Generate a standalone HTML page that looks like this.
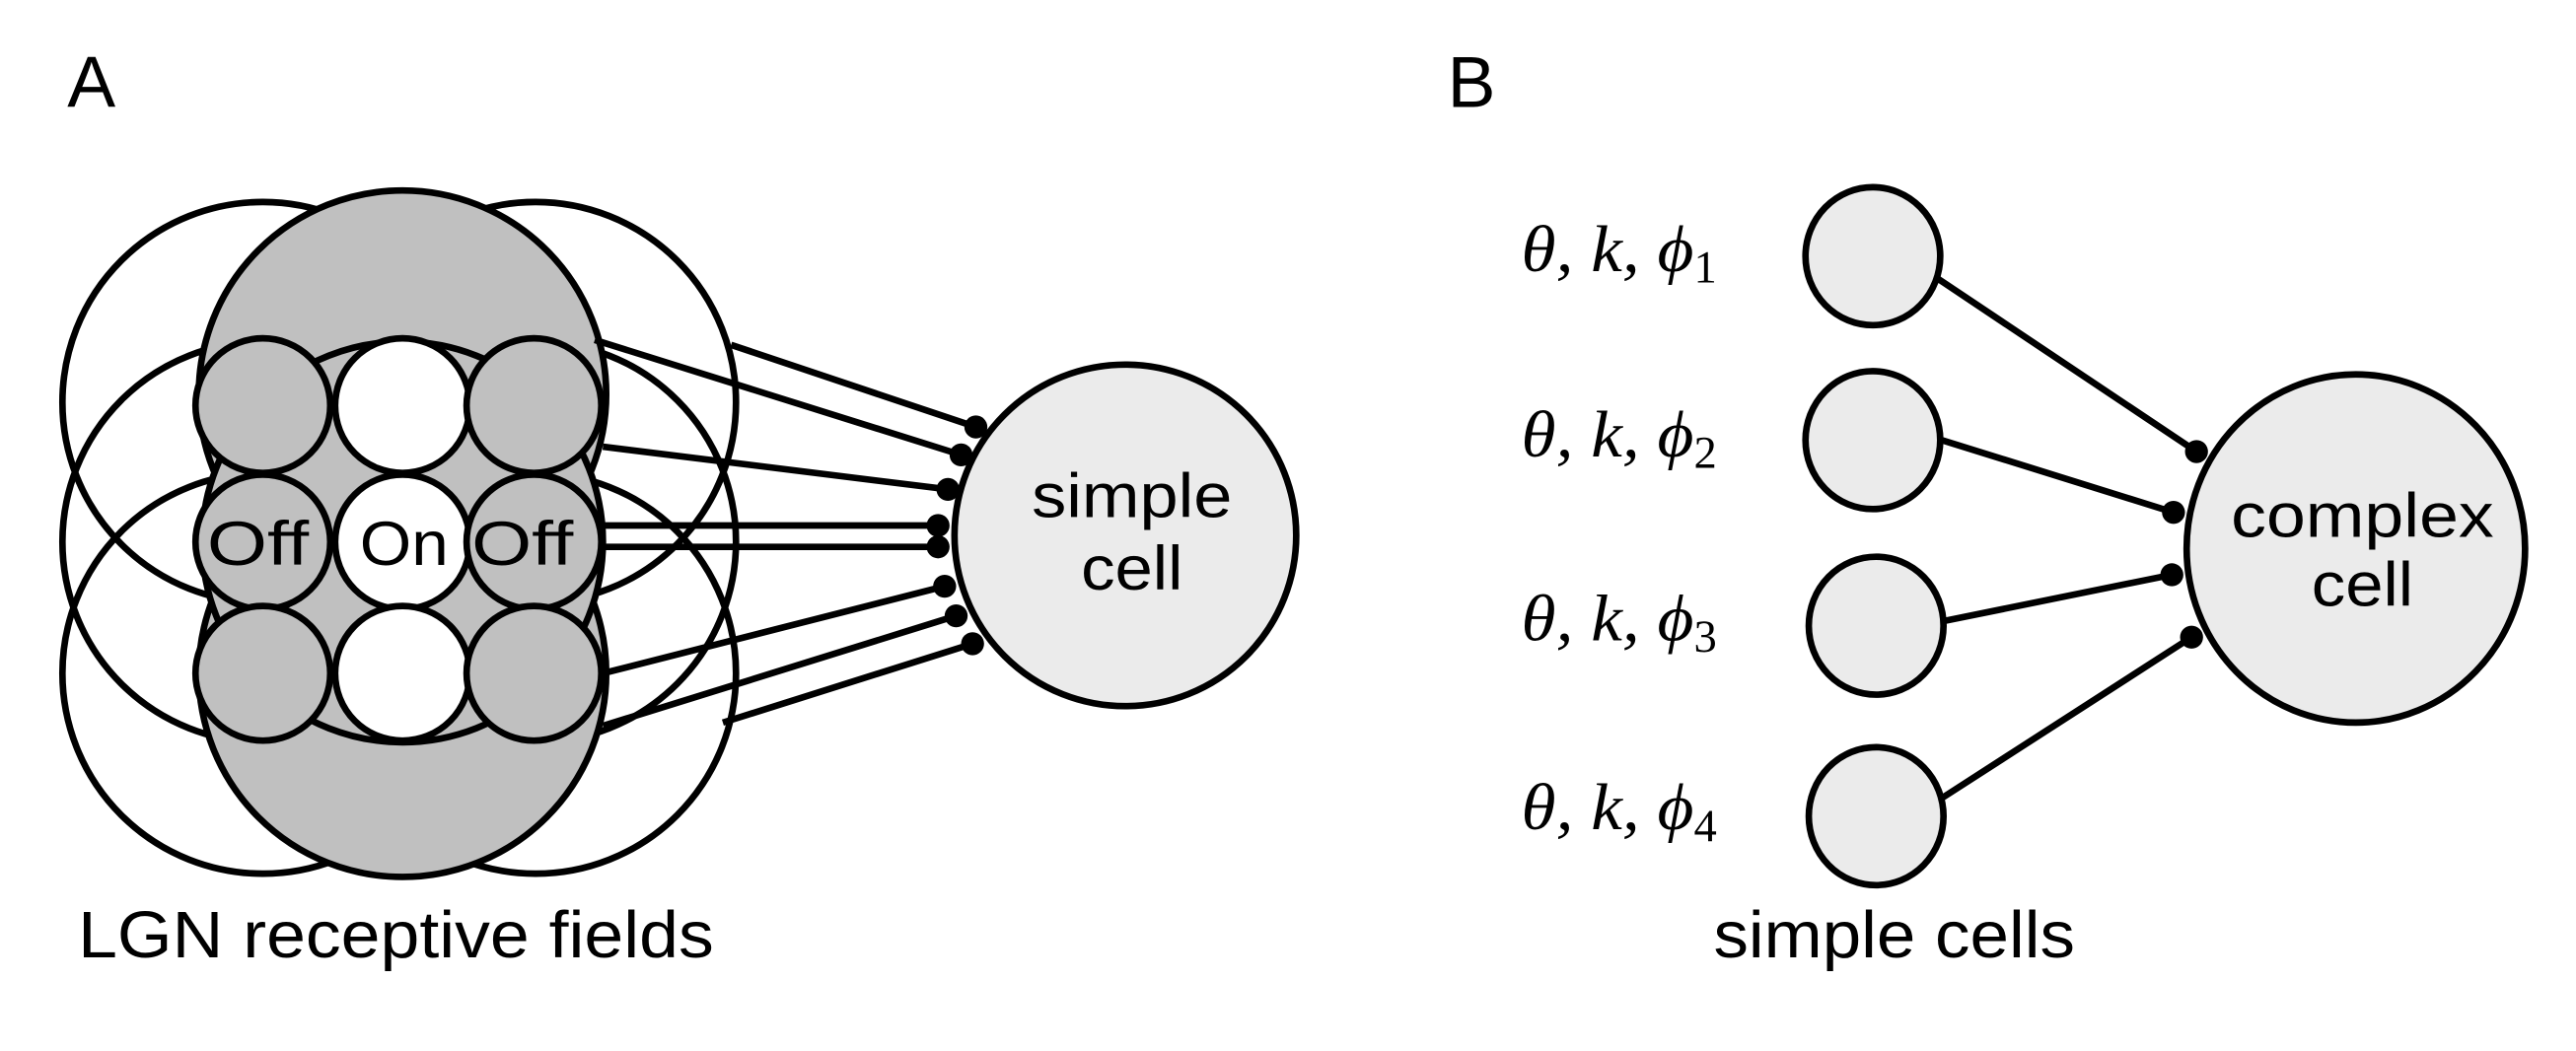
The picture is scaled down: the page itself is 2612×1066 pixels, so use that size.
<!DOCTYPE html>
<html><head><meta charset="utf-8"><style>
html,body{margin:0;padding:0;background:#fff;}
svg{display:block;}
text{font-family:"Liberation Sans",sans-serif;fill:#000;}
.m{font-family:"Liberation Serif",serif;font-style:italic;}
</style></head><body>
<svg width="2612" height="1066" viewBox="0 0 1568 640" preserveAspectRatio="none" xmlns="http://www.w3.org/2000/svg">
<g stroke="#000" stroke-width="4">
<text x="41" y="65" font-size="44" stroke="none">A</text>
<g fill="none">
<circle cx="160" cy="245" r="122"/><circle cx="160" cy="330" r="122"/><circle cx="160" cy="410" r="122"/>
<circle cx="326" cy="245" r="122"/><circle cx="326" cy="330" r="122"/><circle cx="326" cy="410" r="122"/>
</g>
<g fill="#c0c0c0">
<circle cx="245" cy="240" r="124"/><circle cx="245" cy="410" r="124"/><circle cx="245" cy="330" r="122"/>
</g>
<g>
<circle cx="160" cy="247" r="41" fill="#c0c0c0"/><circle cx="245" cy="247" r="41" fill="#fff"/><circle cx="325" cy="247" r="41" fill="#c0c0c0"/>
<circle cx="160" cy="330" r="41" fill="#c0c0c0"/><circle cx="245" cy="330" r="41" fill="#fff"/><circle cx="325" cy="330" r="41" fill="#c0c0c0"/>
<circle cx="160" cy="410" r="41" fill="#c0c0c0"/><circle cx="245" cy="410" r="41" fill="#fff"/><circle cx="325" cy="410" r="41" fill="#c0c0c0"/>
</g>
<g stroke="none" font-size="38" text-anchor="middle">
<text x="157" y="344" textLength="62" lengthAdjust="spacingAndGlyphs">Off</text>
<text x="246" y="344" textLength="54" lengthAdjust="spacingAndGlyphs">On</text>
<text x="318" y="344" textLength="62" lengthAdjust="spacingAndGlyphs">Off</text>
</g>
<g>
<line x1="445" y1="210" x2="594" y2="260"/><line x1="362" y1="207" x2="585" y2="277"/>
<line x1="367" y1="272" x2="577" y2="298"/><line x1="367" y1="320" x2="571" y2="320"/>
<line x1="367" y1="333" x2="571" y2="333"/><line x1="367" y1="410" x2="575" y2="357"/>
<line x1="367" y1="442" x2="582" y2="375"/><line x1="440" y1="440" x2="592" y2="392"/>
</g>
<ellipse cx="685" cy="326" rx="104" ry="104" fill="#ebebeb"/>
<g fill="#000" stroke="none">
<circle cx="594" cy="260" r="7"/><circle cx="585" cy="277" r="7"/><circle cx="577" cy="298" r="7"/><circle cx="571" cy="320" r="7"/>
<circle cx="571" cy="333" r="7"/><circle cx="575" cy="357" r="7"/><circle cx="582" cy="375" r="7"/><circle cx="592" cy="392" r="7"/>
</g>
<g stroke="none" font-size="38" text-anchor="middle">
<text x="689" y="315" textLength="122" lengthAdjust="spacingAndGlyphs">simple</text>
<text x="689" y="359" textLength="62" lengthAdjust="spacingAndGlyphs">cell</text>
<text x="241" y="583" font-size="40" textLength="387" lengthAdjust="spacingAndGlyphs">LGN receptive fields</text>
</g>
</g>
<g stroke="#000" stroke-width="4">
<text x="881" y="65" font-size="44" stroke="none">B</text>
<g>
<line x1="1180" y1="170" x2="1337" y2="275"/><line x1="1182" y1="268" x2="1323" y2="312"/>
<line x1="1184" y1="378" x2="1322" y2="350"/><line x1="1182" y1="486" x2="1334" y2="388"/>
</g>
<g fill="#ebebeb">
<ellipse cx="1140" cy="156" rx="41" ry="42"/><ellipse cx="1140" cy="268" rx="41" ry="42"/>
<ellipse cx="1142" cy="381" rx="41" ry="42"/><ellipse cx="1142" cy="497" rx="41" ry="42"/>
</g>
<ellipse cx="1434" cy="334" rx="103" ry="106" fill="#ebebeb"/>
<g fill="#000" stroke="none">
<circle cx="1337" cy="275" r="7"/><circle cx="1323" cy="312" r="7"/><circle cx="1322" cy="350" r="7"/><circle cx="1334" cy="388" r="7"/>
</g>
<g stroke="none" font-size="40" class="m">
<text class="m" x="926" y="165"><tspan textLength="105" lengthAdjust="spacingAndGlyphs">θ, k, ϕ</tspan><tspan font-style="normal" font-size="28" dy="7">1</tspan></text>
<text class="m" x="926" y="278"><tspan textLength="105" lengthAdjust="spacingAndGlyphs">θ, k, ϕ</tspan><tspan font-style="normal" font-size="28" dy="7">2</tspan></text>
<text class="m" x="926" y="390"><tspan textLength="105" lengthAdjust="spacingAndGlyphs">θ, k, ϕ</tspan><tspan font-style="normal" font-size="28" dy="7">3</tspan></text>
<text class="m" x="926" y="505"><tspan textLength="105" lengthAdjust="spacingAndGlyphs">θ, k, ϕ</tspan><tspan font-style="normal" font-size="28" dy="7">4</tspan></text>
</g>
<g stroke="none" font-size="38" text-anchor="middle">
<text x="1438" y="327" textLength="160" lengthAdjust="spacingAndGlyphs">complex</text>
<text x="1438" y="369" textLength="62" lengthAdjust="spacingAndGlyphs">cell</text>
<text x="1153" y="583" font-size="40" textLength="220" lengthAdjust="spacingAndGlyphs">simple cells</text>
</g>
</g>
</svg>
</body></html>
